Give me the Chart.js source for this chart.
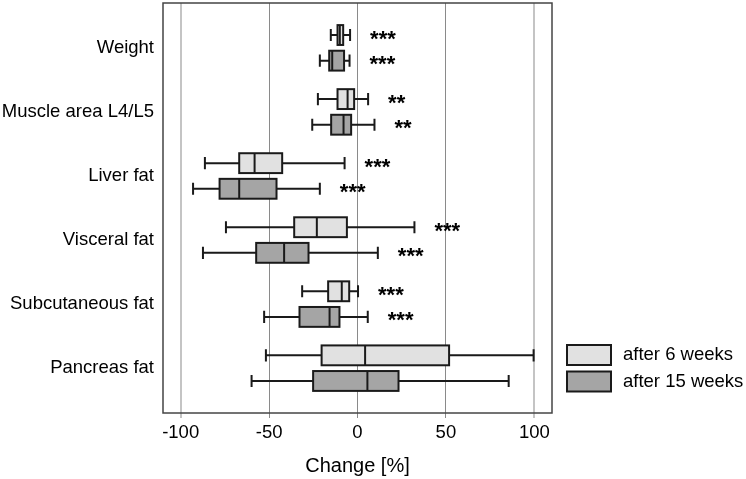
<!DOCTYPE html>
<html>
<head>
<meta charset="utf-8">
<script src="https://cdn.jsdelivr.net/npm/chart.js@4"></script>
<style>
  html, body { margin: 0; padding: 0; background: #fff; }
</style>
</head>
<body>
<canvas id="grafico" width="746" height="479"></canvas>
<script>
// Categorias e séries
const categorias = ['Weight', 'Muscle area L4/L5', 'Liver fat', 'Visceral fat', 'Subcutaneous fat', 'Pancreas fat'];
const series = ['after 6 weeks', 'after 15 weeks'];

// Valores de cada caixa: [mínimo, Q1, mediana, Q3, máximo]
const semana6 = [
    [-15.1, -11.3, -10.0, -8.1, -4.2],
    [-22.4, -11.3, -5.6, -1.9, 6.0],
    [-86.3, -66.9, -58.2, -42.6, -7.3],
    [-74.4, -35.8, -23.0, -6.0, 32.2],
    [-31.3, -16.6, -8.9, -4.7, 0.3],
    [-51.8, -20.3, 4.3, 51.8, 99.6]
];
const semana15 = [
    [-21.3, -16.0, -14.3, -7.6, -4.5],
    [-25.6, -14.9, -7.9, -3.6, 9.6],
    [-93.0, -78.0, -66.9, -45.8, -21.3],
    [-87.4, -57.3, -41.5, -27.7, 11.5],
    [-52.8, -32.8, -15.8, -10.2, 5.8],
    [-59.9, -25.1, 5.6, 23.2, 85.5]
];
// Significância
const signif6 = ['***', '**', '***', '***', '***', ''];
const signif15 = ['***', '**', '***', '***', '***', ''];
const ticksX = [-100, -50, 0, 50, 100];

const fonte = "'Liberation Sans', Arial, sans-serif";
const coresCaixa = ['#e1e1e1', '#a5a5a5'];
const deslocamento = [-0.2, 0.2]; // posição de cada série dentro da categoria

// Plugin que desenha os boxplots, as estrelas, a moldura e a legenda
const boxplotPlugin = {
    id: 'boxplot',
    beforeDatasetsDraw(chart) {
        const { ctx, chartArea: a } = chart;
        ctx.save();
        ctx.strokeStyle = '#444';
        ctx.lineWidth = 1.5;
        ctx.strokeRect(a.left, a.top, a.right - a.left, a.bottom - a.top);
        ctx.restore();
    },
    afterDatasetsDraw(chart) {
        const { ctx, chartArea: a } = chart;
        const xs = chart.scales.x, ys = chart.scales.y;
        const meiaCaixa = Math.abs(ys.getPixelForValue(0.155) - ys.getPixelForValue(0));
        const meiaHaste = Math.abs(ys.getPixelForValue(0.095) - ys.getPixelForValue(0));
        ctx.save();
        chart.data.datasets.forEach((ds, d) => {
            ds.caixas.forEach((c, i) => {
                const y = ys.getPixelForValue(i + deslocamento[d]);
                const [mn, q1, md, q3, mx] = c.map(v => xs.getPixelForValue(v));
                ctx.strokeStyle = '#1a1a1a';
                ctx.lineWidth = 2;
                // bigodes
                ctx.beginPath();
                ctx.moveTo(mn, y); ctx.lineTo(q1, y);
                ctx.moveTo(q3, y); ctx.lineTo(mx, y);
                ctx.moveTo(mn, y - meiaHaste); ctx.lineTo(mn, y + meiaHaste);
                ctx.moveTo(mx, y - meiaHaste); ctx.lineTo(mx, y + meiaHaste);
                ctx.stroke();
                // caixa
                ctx.fillStyle = ds.backgroundColor;
                ctx.fillRect(q1, y - meiaCaixa, q3 - q1, 2 * meiaCaixa);
                ctx.strokeRect(q1, y - meiaCaixa, q3 - q1, 2 * meiaCaixa);
                // mediana
                ctx.beginPath();
                ctx.moveTo(md, y - meiaCaixa); ctx.lineTo(md, y + meiaCaixa);
                ctx.stroke();
                // estrelas, centradas verticalmente na caixa
                const s = ds.signif[i];
                if (s) {
                    ctx.fillStyle = '#000';
                    ctx.font = 'bold 22px ' + fonte;
                    ctx.textAlign = 'left';
                    ctx.textBaseline = 'alphabetic';
                    const m = ctx.measureText(s);
                    const base = y + (m.actualBoundingBoxAscent - m.actualBoundingBoxDescent) / 2;
                    ctx.fillText(s, mx + 20, base);
                }
            });
        });
        // legenda
        ctx.font = '18.5px ' + fonte;
        ctx.textAlign = 'left';
        ctx.textBaseline = 'middle';
        chart.data.datasets.forEach((ds, d) => {
            const lx = a.right + 15;
            const ly = a.bottom - 68 + d * 26.5;
            ctx.fillStyle = ds.backgroundColor;
            ctx.fillRect(lx, ly, 44, 20);
            ctx.strokeStyle = '#1a1a1a';
            ctx.lineWidth = 2;
            ctx.strokeRect(lx, ly, 44, 20);
            ctx.fillStyle = '#000';
            ctx.fillText(ds.label, lx + 56, ly + 10);
        });
        ctx.restore();
    }
};

new Chart(document.getElementById('grafico'), {
    type: 'scatter',
    data: {
        datasets: series.map((nome, d) => ({
            label: nome,
            data: (d === 0 ? semana6 : semana15).map((c, i) => ({ x: c[2], y: i + deslocamento[d] })),
            caixas: d === 0 ? semana6 : semana15,
            signif: d === 0 ? signif6 : signif15,
            backgroundColor: coresCaixa[d],
            pointRadius: 0
        }))
    },
    options: {
        responsive: false,
        animation: false,
        layout: { padding: { left: 0, top: 3, right: 194, bottom: 0 } },
        plugins: {
            legend: { display: false },
            tooltip: { enabled: false }
        },
        scales: {
            x: {
                type: 'linear',
                min: -110,
                max: 110,
                afterBuildTicks: s => { s.ticks = ticksX.map(v => ({ value: v })); },
                afterFit: s => { s.height = 66; s.paddingLeft = 0; s.paddingRight = 0; },
                border: { display: false },
                grid: {
                    color: c => (c.tick && Math.abs(c.tick.value) === 100) ? '#c4c4c4' : '#8a8a8a',
                    lineWidth: c => (c.tick && Math.abs(c.tick.value) === 100) ? 2 : 1,
                    tickLength: 5
                },
                ticks: {
                    font: { family: fonte, size: 18.5 },
                    color: '#000',
                    padding: 4,
                    maxRotation: 0
                },
                title: {
                    display: true,
                    text: 'Change [%]',
                    font: { family: fonte, size: 20 },
                    color: '#000',
                    padding: { top: 4, bottom: 1 }
                }
            },
            y: {
                type: 'linear',
                reverse: true,
                min: -0.7,
                max: 5.7,
                afterBuildTicks: s => { s.ticks = categorias.map((c, i) => ({ value: i })); },
                afterFit: s => { s.width = 163; s.paddingTop = 0; s.paddingBottom = 0; },
                border: { display: false },
                grid: { display: false, drawTicks: false },
                ticks: {
                    callback: v => categorias[v],
                    font: { family: fonte, size: 18.5 },
                    color: '#000',
                    padding: 9
                }
            }
        }
    },
    plugins: [boxplotPlugin]
});
</script>
</body>
</html>
